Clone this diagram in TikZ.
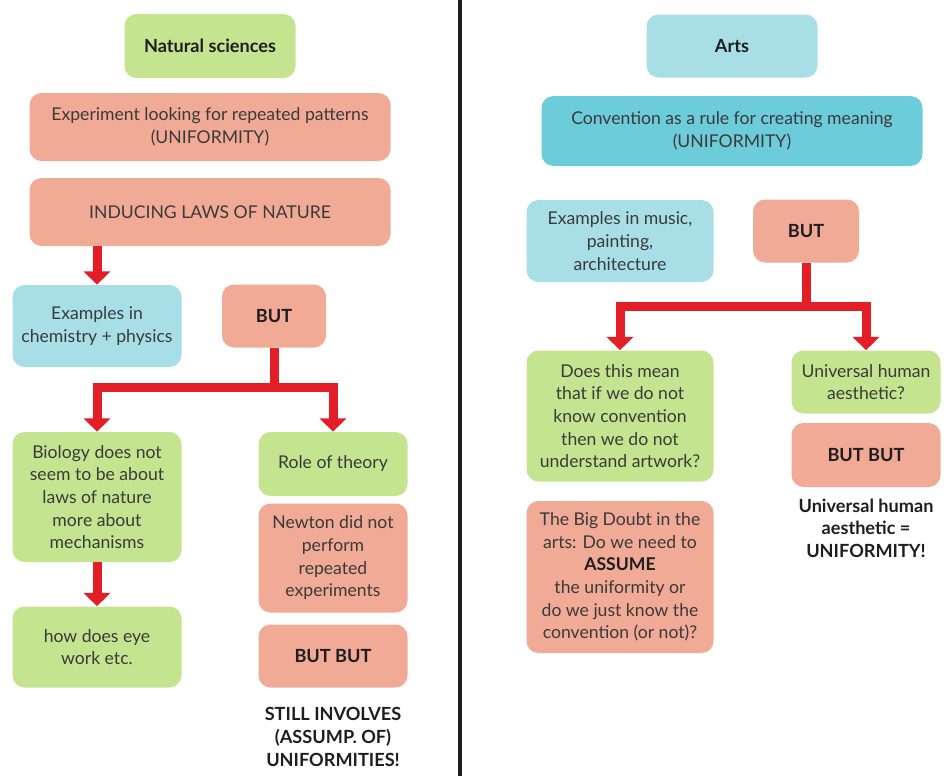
\documentclass[tikz,border=0pt]{standalone}
\usepackage{fontspec}
\setmainfont{Lato}
\usepackage{xcolor}
\usepackage{tikz}
\usetikzlibrary{arrows.meta}

\definecolor{leafgreen}{RGB}{197,228,143}
\definecolor{salmon}{RGB}{240,170,150}
\definecolor{paleblue}{RGB}{168,223,230}
\definecolor{seablue}{RGB}{108,204,218}
\definecolor{arrowred}{RGB}{228,30,38}
\definecolor{inkgrey}{RGB}{58,58,58}
\definecolor{inkdark}{RGB}{30,30,30}

\begin{document}
\begin{tikzpicture}[x=0.75pt,y=0.75pt,yscale=-1,xscale=1,
    box/.style={rounded corners=9pt, align=center, inner sep=2pt, text=inkgrey,
        font=\fontsize{13.2}{17}\selectfont},
    greenbox/.style={box, fill=leafgreen},
    pinkbox/.style={box, fill=salmon},
    bluebox/.style={box, fill=paleblue},
    deepbox/.style={box, fill=seablue},
    heading/.style={text=inkdark, font=\fontsize{13.6}{17}\selectfont\bfseries},
    redarrow/.style={draw=arrowred, line width=6.75pt, line join=miter,
        -{Triangle[length=10pt,width=19.5pt]}}]
        \useasboundingbox (0,0) rectangle (945,776);
        \draw[line width=2.4pt, color=inkdark] (460,0) -- (460,776);

        % natural sciences side
        \node (nat) at (210,46) [greenbox, minimum width=128.25pt, minimum height=48pt, heading] {Natural sciences};
        \node (exper) at (210,127) [pinkbox, minimum width=270.75pt, minimum height=51pt] {Experiment looking for repeated patterns\\(UNIFORMITY)};
        \node (induc) at (210,212) [pinkbox, minimum width=270.75pt, minimum height=51pt] {INDUCING LAWS OF NATURE};
        \node (exchem) at (97,326) [bluebox, minimum width=126.75pt, minimum height=61.5pt] {Examples in\\chemistry + physics};
        \node (butl) at (274,316) [pinkbox, minimum width=78pt, minimum height=47.25pt, heading] {BUT};
        \node (bio) at (97,497) [greenbox, minimum width=126.75pt, minimum height=97.5pt] {Biology does not\\seem to be about\\laws of nature\\more about\\mechanisms};
        \node (eye) at (97,647) [greenbox, minimum width=126.75pt, minimum height=60.75pt] {how does eye\\work etc.};
        \node (role) at (333,464) [greenbox, minimum width=111.75pt, minimum height=48pt] {Role of theory};
        \node (newton) at (333,558) [pinkbox, minimum width=111.75pt, minimum height=81.75pt] {Newton did not\\perform\\repeated\\experiments};
        \node (butbutl) at (333,656) [pinkbox, minimum width=111.75pt, minimum height=47.25pt, heading] {BUT BUT};
        \node (still) at (333,737) [heading, align=center] {STILL INVOLVES\\(ASSUMP. OF)\\UNIFORMITIES!};

        \draw[redarrow] (induc.south -| exchem.north) -- (exchem.north);
        \draw[redarrow] (butl.south) -- ++(0,40) -| (bio.north);
        \draw[redarrow] (butl.south) -- ++(0,40) -| (role.north);
        \draw[redarrow] (bio.south) -- (eye.north);

        % arts side
        \node (arts) at (732,46) [bluebox, minimum width=128.25pt, minimum height=47.25pt, heading] {Arts};
        \node (conv) at (732,131) [deepbox, minimum width=285.75pt, minimum height=52.5pt] {Convention as a rule for creating meaning\\(UNIFORMITY)};
        \node (exart) at (620,241) [bluebox, minimum width=140.25pt, minimum height=61.5pt] {Examples in music,\\painting,\\architecture};
        \node (butr) at (806,231) [pinkbox, minimum width=79.5pt, minimum height=47.25pt, heading] {BUT};
        \node (mean) at (620,416) [greenbox, minimum width=140.25pt, minimum height=98.25pt] {Does this mean\\that if we do not\\know convention\\then we do not\\understand artwork?};
        \node (doubt) at (620,577) [pinkbox, minimum width=140.25pt, minimum height=114pt] {The Big Doubt in the\\arts: Do we need to\\\textbf{\color{inkdark}ASSUME}\\the uniformity or\\do we just know the\\convention (or not)?};
        \node (univ) at (866,382) [greenbox, minimum width=111.75pt, minimum height=47.25pt] {Universal human\\aesthetic?};
        \node (butbutr) at (866,455) [pinkbox, minimum width=111.75pt, minimum height=48pt, heading] {BUT BUT};
        \node (univeq) at (866,528) [heading, align=center] {Universal human\\aesthetic =\\UNIFORMITY!};

        \draw[redarrow] (butr.south) -- ++(0,44) -| (mean.north);
        \draw[redarrow] (butr.south) -- ++(0,44) -| (univ.north);
\end{tikzpicture}
\end{document}
